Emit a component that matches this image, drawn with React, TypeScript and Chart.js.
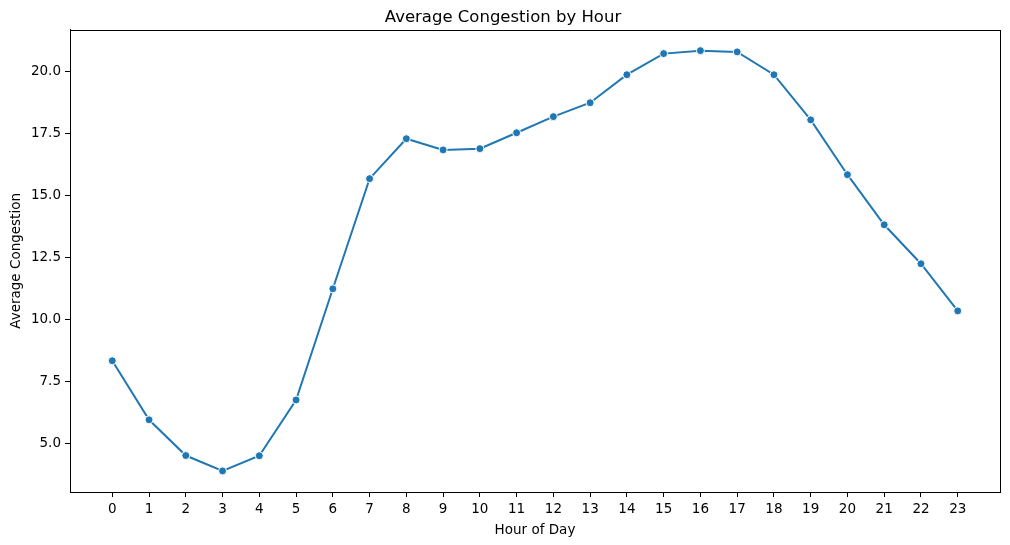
import { useEffect, useRef } from 'react';
import { Chart, ChartConfiguration, registerables } from 'chart.js';

Chart.register(...registerables);

const hours = [0, 1, 2, 3, 4, 5, 6, 7, 8, 9, 10, 11, 12, 13, 14, 15, 16, 17, 18, 19, 20, 21, 22, 23];
const congestion = [
  8.35, 5.97, 4.53, 3.91, 4.52, 6.77, 11.25, 15.69, 17.30, 16.85, 16.90, 17.54,
  18.19, 18.75, 19.88, 20.73, 20.85, 20.80, 19.88, 18.06, 15.85, 13.83, 12.26, 10.36,
];
const yTicks = [5.0, 7.5, 10.0, 12.5, 15.0, 17.5, 20.0];

const FONT = "'DejaVu Sans', sans-serif";

// draws the full box around the plot area, like matplotlib spines
const frame = {
  id: 'frame',
  afterDraw(chart: Chart) {
    const { ctx, chartArea: a } = chart;
    ctx.save();
    ctx.strokeStyle = '#000';
    ctx.lineWidth = 1;
    ctx.strokeRect(Math.round(a.left) + 0.5, Math.round(a.top) + 0.5, Math.round(a.right - a.left), Math.round(a.bottom - a.top));
    ctx.restore();
  },
};

export default function App() {
  const canvasRef = useRef<HTMLCanvasElement | null>(null);

  useEffect(() => {
    document.body.style.margin = '0';
    if (!canvasRef.current) return;

    const config: ChartConfiguration<'line'> = {
      type: 'line',
      data: {
        datasets: [
          {
            data: hours.map((h, i) => ({ x: h, y: congestion[i] })),
            borderColor: '#1f77b4',
            borderWidth: 2,
            pointBackgroundColor: '#1f77b4',
            pointBorderColor: '#ffffff',
            pointBorderWidth: 1,
            pointRadius: 4,
            tension: 0,
          },
        ],
      },
      options: {
        responsive: false,
        animation: false,
        events: [],
        layout: { padding: { left: 6, right: 10, top: 0, bottom: 2 } },
        plugins: {
          legend: { display: false },
          tooltip: { enabled: false },
          title: {
            display: true,
            text: 'Average Congestion by Hour',
            color: '#000',
            font: { family: FONT, size: 16.5, weight: 'normal' },
            padding: { top: 8, bottom: 2 },
          },
        },
        scales: {
          x: {
            type: 'linear',
            min: -1.15,
            max: 24.15,
            afterBuildTicks: (scale) => {
              scale.ticks = hours.map((v) => ({ value: v }));
            },
            afterFit: (scale) => {
              scale.height = 51;
            },
            grid: { drawOnChartArea: false, drawTicks: true, tickLength: 5, tickColor: '#000' },
            border: { display: true, color: '#000' },
            ticks: {
              color: '#000',
              font: { family: FONT, size: 13.5 },
              padding: 4,
              maxRotation: 0,
              autoSkip: false,
            },
            title: {
              display: true,
              text: 'Hour of Day',
              color: '#000',
              font: { family: FONT, size: 13.5 },
              padding: { top: 2, bottom: 4 },
            },
          },
          y: {
            type: 'linear',
            min: 3.06,
            max: 21.69,
            afterBuildTicks: (scale) => {
              scale.ticks = yTicks.map((v) => ({ value: v }));
            },
            afterFit: (scale) => {
              scale.width = 64;
            },
            grid: { drawOnChartArea: false, drawTicks: true, tickLength: 5, tickColor: '#000' },
            border: { display: true, color: '#000' },
            ticks: {
              color: '#000',
              font: { family: FONT, size: 13.5 },
              padding: 4,
              callback: (v) => Number(v).toFixed(1),
            },
            title: {
              display: true,
              text: 'Average Congestion',
              color: '#000',
              font: { family: FONT, size: 13.5 },
              padding: { top: 2, bottom: 4 },
            },
          },
        },
      },
      plugins: [frame],
    };

    const chart = new Chart(canvasRef.current, config);
    return () => chart.destroy();
  }, []);

  return (
    <div style={{ width: 1010, height: 545, background: '#fff' }}>
      <canvas ref={canvasRef} width={1010} height={545} />
    </div>
  );
}
